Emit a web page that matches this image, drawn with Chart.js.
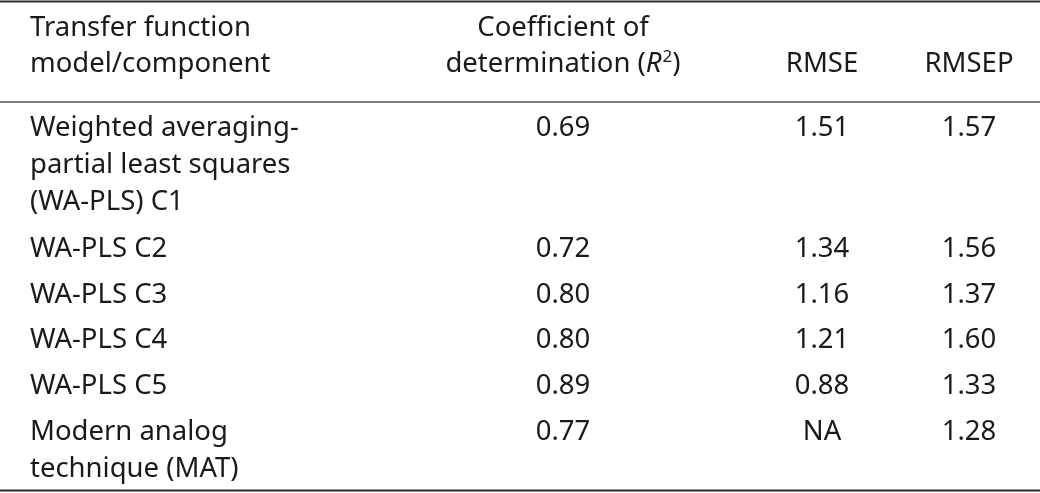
<!DOCTYPE html>
<html>
<head>
<meta charset="utf-8">
<script src="https://cdn.jsdelivr.net/npm/chart.js@4/dist/chart.umd.min.js"></script>
<style>
  html, body { margin: 0; padding: 0; background: #ffffff; }
  #wrap { width: 1040px; height: 493px; position: relative; }
</style>
</head>
<body>
<div id="wrap"><canvas id="c"></canvas></div>
<script>
// ---- Data ----
const headerModel = ["Transfer function", "model/component"];
const headerR2 = ["Coefficient of", "determination ("];
const headerRMSE = ["RMSE"];
const headerRMSEP = ["RMSEP"];
const models = [
  ["Weighted averaging-", "partial least squares", "(WA-PLS) C1"],
  ["WA-PLS C2"],
  ["WA-PLS C3"],
  ["WA-PLS C4"],
  ["WA-PLS C5"],
  ["Modern analog", "technique (MAT)"]
];
const r2Values = ["0.69", "0.72", "0.80", "0.80", "0.89", "0.77"];
const rmseValues = ["1.51", "1.34", "1.16", "1.21", "0.88", "NA"];
const rmsepValues = ["1.57", "1.56", "1.37", "1.60", "1.33", "1.28"];

// ---- Layout / style ----
const FONT = '"Noto Sans", "Open Sans", sans-serif';
const TEXT = '#1a1a1a';
const colX = [30, 563, 822, 969];       // left anchor for col 0, centers for others
const headerBase = [36, 72];             // baselines of header lines
const lineH = 36.8;
const rowFirstBase = [136, 257, 302.5, 348, 393.5, 440];
const rules = [{y: 1.5, w: 2, c: '#2b2b2b'}, {y: 102, w: 1.3, c: '#555555'}, {y: 490.5, w: 2, c: '#2b2b2b'}];

const tablePlugin = {
  id: 'tablePlugin',
  afterDraw(chart) {
    const ctx = chart.ctx;
    const xs = chart.scales.x, ys = chart.scales.y;
    const X = v => xs.getPixelForValue(v);
    const Y = v => ys.getPixelForValue(v);
    ctx.save();
    // font size fitted to reference width of "Transfer function"
    ctx.font = '26px ' + FONT;
    const w = ctx.measureText(headerModel[0]).width;
    const fs = Math.min(30, 26 * 221 / w);
    const font = fs.toFixed(2) + 'px ' + FONT;
    const fontI = 'italic ' + font;
    const fontSup = (fs * 0.62).toFixed(2) + 'px ' + FONT;

    // rules
    rules.forEach(r => {
      ctx.beginPath();
      ctx.strokeStyle = r.c;
      ctx.lineWidth = r.w;
      ctx.moveTo(X(0), Y(r.y));
      ctx.lineTo(X(1040), Y(r.y));
      ctx.stroke();
    });

    ctx.fillStyle = TEXT;
    ctx.textBaseline = 'alphabetic';
    ctx.font = font;

    // header col 0
    ctx.textAlign = 'left';
    headerModel.forEach((t, i) => ctx.fillText(t, X(colX[0]), Y(headerBase[i])));
    // header col 1
    ctx.textAlign = 'center';
    ctx.fillText(headerR2[0], X(colX[1]), Y(headerBase[0]));
    // second line with italic R and superscript 2
    const p1 = headerR2[1];
    ctx.font = font; const w1 = ctx.measureText(p1).width;
    ctx.font = fontI; const wR = ctx.measureText('R').width;
    ctx.font = fontSup; const w2 = ctx.measureText('2').width;
    ctx.font = font; const w3 = ctx.measureText(')').width;
    const total = w1 + wR + w2 + 1 + w3;
    let x = X(colX[1]) - total / 2;
    const by = Y(headerBase[1]);
    ctx.textAlign = 'left';
    ctx.font = font; ctx.fillText(p1, x, by); x += w1;
    ctx.font = fontI; ctx.fillText('R', x, by); x += wR + 1;
    ctx.font = fontSup; ctx.fillText('2', x, by - fs * 0.36); x += w2;
    ctx.font = font; ctx.fillText(')', x, by);
    // header col 2, 3 (bottom aligned)
    ctx.textAlign = 'center';
    ctx.fillText(headerRMSE[0], X(colX[2]), Y(headerBase[1]));
    ctx.fillText(headerRMSEP[0], X(colX[3]), Y(headerBase[1]));

    // body
    models.forEach((lines, r) => {
      const b = rowFirstBase[r];
      ctx.textAlign = 'left';
      lines.forEach((t, i) => ctx.fillText(t, X(colX[0]), Y(b + i * lineH)));
      ctx.textAlign = 'center';
      ctx.fillText(r2Values[r], X(colX[1]), Y(b));
      ctx.fillText(rmseValues[r], X(colX[2]), Y(b));
      ctx.fillText(rmsepValues[r], X(colX[3]), Y(b));
    });
    ctx.restore();
  }
};

new Chart(document.getElementById('c'), {
  type: 'scatter',
  data: { datasets: [{ data: [], pointRadius: 0 }] },
  options: {
    responsive: true,
    maintainAspectRatio: false,
    animation: false,
    layout: { padding: 0 },
    plugins: { legend: { display: false }, tooltip: { enabled: false }, title: { display: false } },
    scales: {
      x: { type: 'linear', min: 0, max: 1040, display: false },
      y: { type: 'linear', min: 0, max: 493, reverse: true, display: false }
    }
  },
  plugins: [tablePlugin]
});
</script>
</body>
</html>
